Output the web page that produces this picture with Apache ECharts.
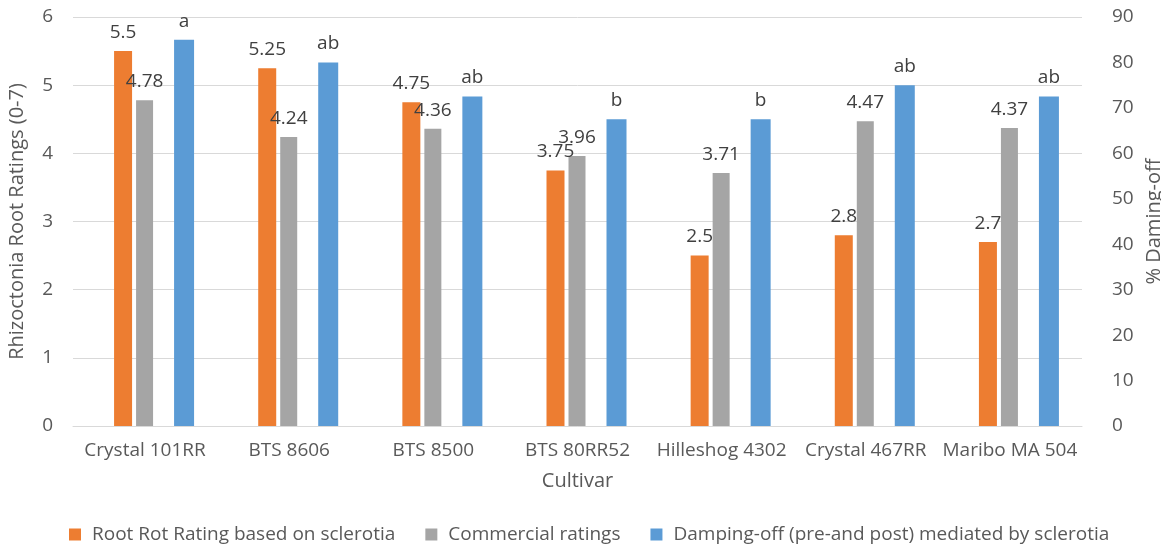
<!DOCTYPE html>
<html>
<head>
<meta charset="utf-8">
<script src="https://cdn.jsdelivr.net/npm/echarts@6/dist/echarts.min.js"></script>
<style>
html,body{margin:0;padding:0;background:#fff;}
#chart{width:1161px;height:547px;}
</style>
</head>
<body>
<div id="chart"></div>
<script>
const categories = ['Crystal 101RR', 'BTS 8606', 'BTS 8500', 'BTS 80RR52', 'Hilleshog 4302', 'Crystal 467RR', 'Maribo MA 504'];
const rootRotSclerotia = [5.5, 5.25, 4.75, 3.75, 2.5, 2.8, 2.7];
const commercialRatings = [4.78, 4.24, 4.36, 3.96, 3.71, 4.47, 4.37];
const dampingOff = [85, 80, 72.5, 67.5, 67.5, 75, 72.5];
const dampingLetters = ['a', 'ab', 'ab', 'b', 'b', 'ab', 'ab'];
const seriesNames = ['Root Rot Rating based on sclerotia', 'Commercial ratings', 'Damping-off (pre-and post) mediated by sclerotia'];

const FONT = '"Open Sans", "DejaVu Sans", sans-serif';
const TXT = '#595959';
const chart = echarts.init(document.getElementById('chart'));

function spacer(name, w) {
  return { name: name, type: 'bar', data: [], barWidth: w, barGap: '0%', silent: true, itemStyle: { color: 'transparent' } };
}

chart.setOption({
  animation: false,
  textStyle: { fontFamily: FONT },
  grid: { left: 73, right: 79, top: 17, bottom: 121, containLabel: false, outerBoundsMode: 'none' },
  legend: {
    data: seriesNames,
    bottom: -2,
    left: 64,
    icon: 'rect',
    itemWidth: 12,
    itemHeight: 12,
    itemGap: 30,
    textStyle: { fontFamily: FONT, fontSize: 19, color: TXT, padding: [0, 0, 0, 6] }
  },
  xAxis: {
    type: 'category',
    data: categories,
    name: 'Cultivar',
    nameLocation: 'middle',
    nameGap: 45,
    nameTextStyle: { fontFamily: FONT, fontSize: 20, color: TXT },
    axisLine: { lineStyle: { color: '#d9d9d9' } },
    axisTick: { show: false },
    axisLabel: { fontFamily: FONT, fontSize: 19, color: TXT, margin: 15, interval: 0 }
  },
  yAxis: [
    {
      type: 'value', min: 0, max: 6, interval: 1,
      name: 'Rhizoctonia Root Ratings (0-7)',
      nameLocation: 'middle', nameGap: 46,
      nameTextStyle: { fontFamily: FONT, fontSize: 20, color: TXT },
      axisLine: { show: false }, axisTick: { show: false },
      axisLabel: { fontFamily: FONT, fontSize: 19, color: TXT, margin: 20 },
      splitLine: { lineStyle: { color: '#d9d9d9' } }
    },
    {
      type: 'value', min: 0, max: 90, interval: 10,
      name: '% Daming-off',
      nameLocation: 'middle', nameGap: 52,
      nameRotate: 90,
      nameTextStyle: { fontFamily: FONT, fontSize: 20, color: TXT },
      axisLine: { show: false }, axisTick: { show: false },
      axisLabel: { fontFamily: FONT, fontSize: 19, color: TXT, margin: 30 },
      splitLine: { show: false }
    }
  ],
  series: [
    spacer('sp1', 18),
    {
      name: seriesNames[0], type: 'bar', yAxisIndex: 0, data: rootRotSclerotia,
      barWidth: 18, barGap: '0%',
      itemStyle: { color: '#ED7D31' },
      label: { show: true, position: 'top', distance: 9, fontFamily: FONT, fontSize: 19, color: '#404040' }
    },
    spacer('sp2', 4),
    {
      name: seriesNames[1], type: 'bar', yAxisIndex: 0, data: commercialRatings,
      barWidth: 17, barGap: '0%',
      itemStyle: { color: '#A5A5A5' },
      label: { show: true, position: 'top', distance: 9, fontFamily: FONT, fontSize: 19, color: '#404040' }
    },
    spacer('sp3', 21),
    {
      name: seriesNames[2], type: 'bar', yAxisIndex: 1, data: dampingOff,
      barWidth: 20, barGap: '0%',
      itemStyle: { color: '#5B9BD5' },
      label: {
        show: true, position: 'top', distance: 9, fontFamily: FONT, fontSize: 19, color: '#404040',
        formatter: function (p) { return dampingLetters[p.dataIndex]; }
      }
    }
  ]
});
</script>
</body>
</html>
